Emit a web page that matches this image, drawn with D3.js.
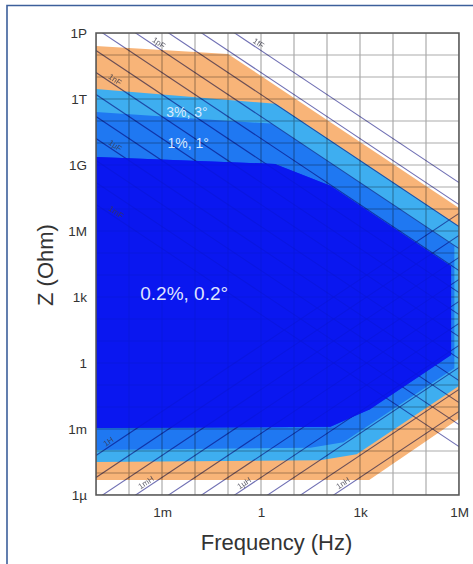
<!DOCTYPE html>
<html><head><meta charset="utf-8">
<script src="https://cdn.jsdelivr.net/npm/d3@7"></script>
<style>body{margin:0;background:#fff}svg{display:block}</style>
</head><body>
<svg id="chart" width="473" height="564"></svg>
<script>
// ---------- data ----------
const freqTicks = [1e-3, 1, 1e3, 1e6];
const freqTickLabels = ["1m", "1", "1k", "1M"];
const zTicks = [1e-6, 1e-3, 1, 1e3, 1e6, 1e9, 1e12, 1e15];
const zTickLabels = ["1µ", "1m", "1", "1k", "1M", "1G", "1T", "1P"];

// accuracy region outlines, [frequency Hz, impedance Ohm]
const regionOrange = [[1e-5,2.57e14],[1e-1,1.12e14],[1e6,1.12e7],[1e6,2.95e-3],[1.9e3,4.8e-6],[1e-5,4.8e-6]];
const region3pct   = [[1e-5,2.82e12],[2.82,6.03e11],[1e6,1.7e6],[1e6,9.1e-2],[794,7.2e-5],[63,3.8e-5],[1e-5,3.16e-5]];
const region1pct   = [[1e-5,2.57e11],[2.0,7.6e10],[7.24e5,2.09e5],[7.24e5,0.575],[316,2.5e-4],[31.6,1.41e-4],[1e-5,1.12e-4]];
const region02pct  = [[1e-5,2.29e9],[2.63,1.12e9],[126,1.15e8],[5.75e5,2.5e4],[5.75e5,2.29],[2000,7.9e-3],[126,1.26e-3],[1e-5,1.12e-3]];
const regionColors = ["#f8b478", "#3eaef0", "#1f78f2", "#0a18f0"];
const regionLabels = ["", "3%, 3°", "1%, 1°", "0.2%, 0.2°"];
const regionLabelPos = [null, [5.7e-3, 2.6e11], [6.2e-3, 9.5e9], [4.7e-3, 1.5e3]];

// reference lines of constant capacitance / inductance
const capacitances = [1e-15,1e-14,1e-13,1e-12,1e-11,1e-10,1e-9,1e-8,1e-7,1e-6,1e-5,1e-4,1e-3];
const inductances  = [1e-9,1e-8,1e-7,1e-6,1e-5,1e-4,1e-3,1e-2,1e-1,1];
const capLabels = [["1fF",1e-15,0.5],["1pF",1e-12,4.5e-4],["1nF",1e-9,2.1e-5],["1µF",1e-6,2.1e-5],["1mF",1e-3,2.1e-5]];
const indLabels = [["1H",1,2.1e-5],["1mH",1e-3,2.4e-4],["1µH",1e-6,0.24],["1nH",1e-9,240]];

// ---------- chart ----------
const svg = d3.select("#chart");
const L = 96, R = 459, T = 33, B = 495;
const x = d3.scaleLog().domain([1e-5, 1e6]).range([L, R]);
const y = d3.scaleLog().domain([1e-6, 1e15]).range([B, T]);
const FONT = "Liberation Sans, Arial, sans-serif";

svg.append("rect").attr("width",473).attr("height",564).attr("fill","#fff");
svg.append("path").attr("d", d3.line()([[7,564],[7,5.5],[473,5.5]]))
  .attr("fill","none").attr("stroke","#3c5f9b").attr("stroke-width",1.6);

svg.append("clipPath").attr("id","clip").append("rect")
  .attr("x",L).attr("y",T).attr("width",R-L).attr("height",B-T);
const plot = svg.append("g").attr("clip-path","url(#clip)");

const line = d3.line().x(d => x(d[0])).y(d => y(d[1]));
const regions = [regionOrange, region3pct, region1pct, region02pct];
regions.forEach((r,i) => {
  plot.append("path").attr("d", line(r) + "Z").attr("fill", regionColors[i]);
});

// grid
const isDecade = v => Math.abs(Math.log10(v) - Math.round(Math.log10(v))) < 1e-6;
const xg = x.ticks(20).filter(isDecade);
const yg = y.ticks(30).filter(isDecade);
const grid = plot.append("g").style("mix-blend-mode","multiply");
grid.selectAll(".v").data(xg).join("line")
  .attr("x1",d=>x(d)).attr("x2",d=>x(d)).attr("y1",T).attr("y2",B)
  .attr("stroke","#acacac").attr("stroke-width",1.2);
grid.selectAll(".h").data(yg).join("line")
  .attr("y1",d=>y(d)).attr("y2",d=>y(d)).attr("x1",L).attr("x2",R)
  .attr("stroke","#acacac").attr("stroke-width",1.2);

// C and L lines
const f0 = 1e-5, f1 = 1e6;
const zC = (f,C) => 1/(2*Math.PI*f*C);
const zL = (f,Lh) => 2*Math.PI*f*Lh;
const diag = plot.append("g").style("mix-blend-mode","multiply");
diag.selectAll(".c").data(capacitances).join("line")
  .attr("x1",x(f0)).attr("y1",d=>y(zC(f0,d))).attr("x2",x(f1)).attr("y2",d=>y(zC(f1,d)))
  .attr("stroke","#7070b4").attr("stroke-width",1.1);
diag.selectAll(".l").data(inductances).join("line")
  .attr("x1",x(f0)).attr("y1",d=>y(zL(f0,d))).attr("x2",x(f1)).attr("y2",d=>y(zL(f1,d)))
  .attr("stroke","#7070b4").attr("stroke-width",1.1);

// the innermost region veils the lines beneath it
plot.append("path").attr("d", line(region02pct) + "Z").attr("fill", regionColors[3]).attr("fill-opacity",0.8);

// line labels
const angCdeg = Math.atan2(y(zC(10,1e-6))-y(zC(1,1e-6)), x(10)-x(1)) * 180/Math.PI;
const angLdeg = Math.atan2(y(zL(10,1e-6))-y(zL(1,1e-6)), x(10)-x(1)) * 180/Math.PI;
capLabels.forEach(([t,C,f]) => {
  plot.append("text").attr("transform",`translate(${x(f)},${y(zC(f,C))}) rotate(${angCdeg})`)
    .attr("dy",-2).attr("font-family",FONT).attr("font-size",8)
    .attr("fill","#3a3a4a").attr("fill-opacity",0.8).text(t);
});
indLabels.forEach(([t,Lh,f]) => {
  plot.append("text").attr("transform",`translate(${x(f)},${y(zL(f,Lh))}) rotate(${angLdeg})`)
    .attr("dy",-2).attr("font-family",FONT).attr("font-size",8)
    .attr("fill","#3a3a4a").attr("fill-opacity",0.8).text(t);
});

// region labels
regionLabels.forEach((t,i) => {
  if (!t) return;
  const p = regionLabelPos[i];
  svg.append("text").attr("x",x(p[0])).attr("y",y(p[1])).attr("dy","0.35em")
    .attr("text-anchor","middle").attr("font-family",FONT)
    .attr("font-size", i===3 ? 19 : 14).attr("fill", i===3 ? "#dfe3ff" : "#d6e8ff").text(t);
});

// frame
svg.append("rect").attr("x",L).attr("y",T).attr("width",R-L).attr("height",B-T)
  .attr("fill","none").attr("stroke","#555").attr("stroke-width",1.5);

// axes
const xa = svg.append("g").attr("transform",`translate(0,${B})`)
  .call(d3.axisBottom(x).tickValues(freqTicks).tickFormat((d,i)=>freqTickLabels[i]).tickSize(0).tickPadding(12));
const ya = svg.append("g").attr("transform",`translate(${L},0)`)
  .call(d3.axisLeft(y).tickValues(zTicks).tickFormat((d,i)=>zTickLabels[i]).tickSize(0).tickPadding(9));
[xa,ya].forEach(a => {
  a.select(".domain").remove();
  a.selectAll("text").attr("font-family",FONT).attr("font-size",13.5).attr("fill","#333");
});

svg.append("text").attr("x",276.5).attr("y",550).attr("text-anchor","middle")
  .attr("font-family",FONT).attr("font-size",22).attr("fill","#333").text("Frequency (Hz)");
svg.append("text").attr("transform","translate(53,265) rotate(-90)").attr("text-anchor","middle")
  .attr("font-family",FONT).attr("font-size",22).attr("fill","#333").text("Z (Ohm)");
</script>
</body></html>
